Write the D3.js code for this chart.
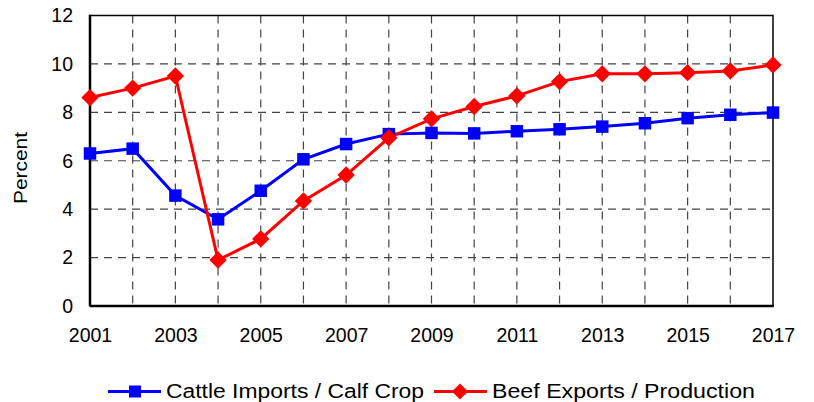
<!DOCTYPE html>
<html><head><meta charset="utf-8">
<script src="https://cdn.jsdelivr.net/npm/d3@7"></script>
<style>body{margin:0;background:#fff;} text{font-family:"Liberation Sans",Arial,sans-serif;}</style>
</head><body>
<svg id="c" width="814" height="402"></svg>
<script>
const years = [2001,2002,2003,2004,2005,2006,2007,2008,2009,2010,2011,2012,2013,2014,2015,2016,2017];
const cattleImports = [6.3,6.5,4.56,3.58,4.76,6.06,6.69,7.1,7.15,7.13,7.22,7.3,7.41,7.55,7.76,7.9,7.99];
const beefExports = [8.61,9.0,9.5,1.9,2.77,4.34,5.41,6.95,7.73,8.24,8.68,9.27,9.59,9.59,9.64,9.71,9.96];
const yTicks = [0,2,4,6,8,10,12];
const xTickLabels = [2001,2003,2005,2007,2009,2011,2013,2015,2017];
const seriesNames = ["Cattle Imports / Calf Crop","Beef Exports / Production"];

const svg = d3.select("#c");
const L=90, R=773, T=15.5, B=306;
const x = d3.scaleLinear().domain([2001,2017]).range([L,R]);
const y = d3.scaleLinear().domain([0,12]).range([B,T]);

// grid
svg.append("g").selectAll("line").data(years.slice(1,-1)).join("line")
  .attr("x1",d=>x(d)).attr("x2",d=>x(d)).attr("y1",T).attr("y2",B)
  .attr("stroke","#444").attr("stroke-width",1.2).attr("stroke-dasharray","8,6");
svg.append("g").selectAll("line").data(yTicks.slice(1,-1)).join("line")
  .attr("x1",L).attr("x2",R).attr("y1",d=>y(d)).attr("y2",d=>y(d))
  .attr("stroke","#444").attr("stroke-width",1.2).attr("stroke-dasharray","8,6");

// frame
svg.append("rect").attr("x",L).attr("y",T).attr("width",R-L).attr("height",B-T)
  .attr("fill","none").attr("stroke","#000").attr("stroke-width",1.5);
svg.append("line").attr("x1",L).attr("x2",L).attr("y1",T-0.75).attr("y2",B).attr("stroke","#000").attr("stroke-width",2.5);
svg.append("line").attr("x1",L).attr("x2",R+0.75).attr("y1",B).attr("y2",B).attr("stroke","#000").attr("stroke-width",2.5);

// axes labels
const yAxis = d3.axisLeft(y).tickValues(yTicks).tickSize(0).tickPadding(17).tickFormat(d3.format("d"));
const ga = svg.append("g").attr("transform",`translate(${L},0)`).call(yAxis);
ga.select(".domain").remove();
ga.selectAll("text").attr("font-size",19.5).attr("fill","#000").attr("font-family","Liberation Sans, Arial, sans-serif");
const xAxis = d3.axisBottom(x).tickValues(xTickLabels).tickSize(0).tickPadding(22).tickFormat(d3.format("d"));
const gx = svg.append("g").attr("transform",`translate(0,${B})`).call(xAxis);
gx.select(".domain").remove();
gx.selectAll("text").attr("font-size",19.5).attr("fill","#000").attr("font-family","Liberation Sans, Arial, sans-serif");

svg.append("text").attr("transform","translate(26.5,168) rotate(-90)").attr("text-anchor","middle")
  .attr("font-size",18).attr("textLength",72).attr("lengthAdjust","spacingAndGlyphs").text("Percent");

const line = d3.line().x((d,i)=>x(years[i])).y(d=>y(d));
// series
svg.append("path").datum(cattleImports).attr("d",line).attr("fill","none").attr("stroke","#0000ff").attr("stroke-width",3);
svg.append("path").datum(beefExports).attr("d",line).attr("fill","none").attr("stroke","#ff0000").attr("stroke-width",3);
const sq = d3.symbol().type(d3.symbolSquare).size(156);
const dm = d3.symbol().type(d3.symbolSquare).size(150);
svg.append("g").selectAll("path").data(cattleImports).join("path")
  .attr("transform",(d,i)=>`translate(${x(years[i])},${y(d)})`).attr("d",sq).attr("fill","#0000ff");
svg.append("g").selectAll("path").data(beefExports).join("path")
  .attr("transform",(d,i)=>`translate(${x(years[i])},${y(d)}) rotate(45)`).attr("d",dm).attr("fill","#ff0000");

// legend
const lg = svg.append("g");
const ly = 391.5;
lg.append("line").attr("x1",108).attr("x2",161).attr("y1",ly).attr("y2",ly).attr("stroke","#0000ff").attr("stroke-width",3);
lg.append("path").attr("transform",`translate(135,${ly})`).attr("d",d3.symbol().type(d3.symbolSquare).size(144)).attr("fill","#0000ff");
lg.append("text").attr("x",166).attr("y",398).attr("font-size",20).attr("textLength",258).attr("lengthAdjust","spacingAndGlyphs").text(seriesNames[0]);
lg.append("line").attr("x1",434).attr("x2",487).attr("y1",ly).attr("y2",ly).attr("stroke","#ff0000").attr("stroke-width",3);
lg.append("path").attr("transform",`translate(460,${ly}) rotate(45)`).attr("d",d3.symbol().type(d3.symbolSquare).size(130)).attr("fill","#ff0000");
lg.append("text").attr("x",492).attr("y",398).attr("font-size",20).attr("textLength",263).attr("lengthAdjust","spacingAndGlyphs").text(seriesNames[1]);
</script>
</body></html>
